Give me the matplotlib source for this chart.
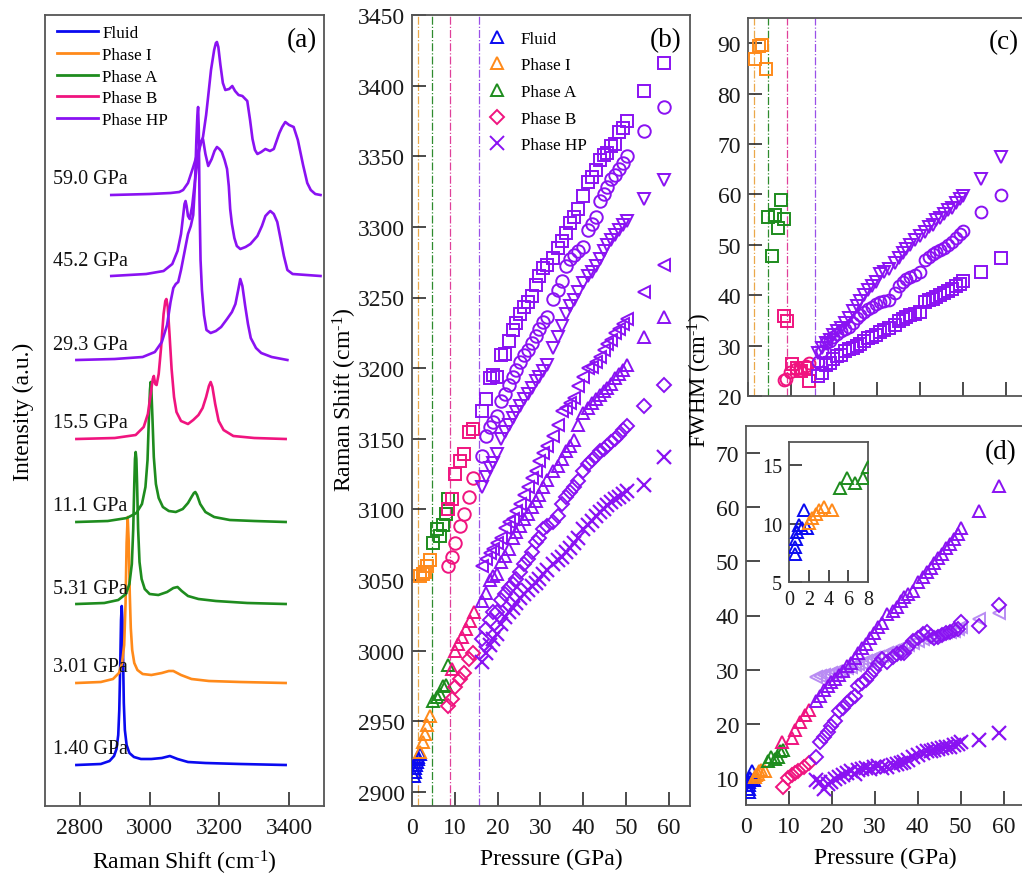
import matplotlib
matplotlib.use("Agg")
import matplotlib.pyplot as plt
from matplotlib.lines import Line2D

plt.rcParams["font.family"] = ["Liberation Serif", "DejaVu Serif"]
plt.rcParams["mathtext.fontset"] = "custom"
plt.rcParams["mathtext.rm"] = "Liberation Serif"
plt.rcParams["mathtext.it"] = "Liberation Serif:italic"
plt.rcParams["mathtext.default"] = "regular"

W, H = 1022, 879

C_FLUID = "#0A0AF0"
C_I = "#FF8A1A"
C_A = "#1E8C1E"
C_B = "#F0147F"
C_HP = "#8A12F2"
C_HP_LIGHT = "#B98CF3"

PHASES = ["Fluid", "Phase I", "Phase A", "Phase B", "Phase HP"]
CM_INV = r"(cm$^{\text{-}1}$)"

# ---------------- (a) Raman spectra (shift in cm-1, intensity above baseline, a.u.)
SPEC_LABELS = ["1.40 GPa", "3.01 GPa", "5.31 GPa", "11.1 GPa",
               "15.5 GPa", "29.3 GPa", "45.2 GPa", "59.0 GPa"]
SPEC_OFFSETS = [41, 123, 202, 284, 367, 446, 530, 611]

X_140 = [2790, 2860, 2885, 2898, 2905, 2910, 2913, 2916, 2918, 2920, 2922, 2924, 2926,
         2929, 2934, 2942, 2955, 2975, 3005, 3035, 3058, 3080, 3110, 3160, 3260, 3390]
Y_140 = [0, 1, 4, 9, 16, 30, 55, 105, 145, 159, 145, 105, 62,
         35, 20, 12, 8, 6, 6, 7, 9, 6, 3, 2, 1, 0]

X_301 = [2790, 2860, 2895, 2912, 2921, 2927, 2931, 2934, 2937, 2940, 2943, 2946, 2950,
         2956, 2965, 2980, 3005, 3035, 3055, 3068, 3090, 3120, 3170, 3260, 3390]
Y_301 = [0, 1, 4, 10, 20, 38, 80, 140, 166, 142, 90, 55, 33,
         20, 13, 9, 8, 10, 12, 12, 8, 4, 2, 1, 0]

X_531 = [2790, 2870, 2910, 2932, 2942, 2949, 2953, 2956, 2958, 2960, 2962, 2964, 2967,
         2971, 2977, 2986, 3000, 3025, 3050, 3068, 3080, 3092, 3110, 3140, 3190, 3280, 3390]
Y_531 = [0, 1, 4, 10, 20, 40, 75, 120, 145, 152, 145, 120, 75,
         42, 25, 15, 10, 9, 12, 16, 17, 13, 8, 5, 3, 1, 0]

X_111 = [2790, 2880, 2935, 2962, 2978, 2988, 2994, 2998, 3001, 3003, 3005, 3008, 3012,
         3018, 3026, 3038, 3055, 3075, 3095, 3110, 3120, 3127, 3131, 3136, 3145, 3160,
         3185, 3230, 3300, 3390]
Y_111 = [0, 1, 4, 9, 18, 35, 62, 105, 132, 140, 132, 105, 65,
         38, 24, 15, 11, 10, 13, 19, 25, 29, 30, 27, 18, 10,
         5, 2, 1, 0]

X_155 = [2790, 2900, 2960, 2983, 2995, 3003, 3009, 3012, 3016, 3020, 3026, 3033, 3040,
         3045, 3048, 3052, 3057, 3063, 3070, 3077, 3090, 3110, 3125, 3140, 3152, 3162,
         3170, 3175, 3180, 3188, 3198, 3212, 3240, 3300, 3390]
Y_155 = [0, 1, 4, 12, 25, 45, 60, 63, 55, 54, 65, 92, 125,
         138, 140, 132, 105, 70, 42, 27, 18, 15, 19, 24, 31, 42,
         53, 57, 52, 35, 18, 9, 3, 1, 0]

X_293 = [2790, 2900, 2980, 3015, 3035, 3050, 3060, 3068, 3075, 3082, 3090, 3100, 3110,
         3118, 3125, 3130, 3134, 3137, 3139, 3141, 3143, 3146, 3150, 3156, 3163, 3175,
         3190, 3205, 3222, 3236, 3246, 3254, 3260, 3266, 3274, 3282, 3290, 3305, 3320,
         3350, 3395]
Y_293 = [0, 1, 3, 8, 18, 35, 58, 72, 76, 78, 90, 108, 126,
         134, 145, 175, 220, 245, 253, 230, 160, 100, 70, 45, 30, 27,
         29, 33, 41, 48, 56, 70, 81, 74, 54, 36, 22, 12, 7,
         3, 0]

X_452 = [2890, 2990, 3040, 3065, 3080, 3090, 3096, 3100, 3103, 3106, 3110, 3115, 3122,
         3130, 3140, 3148, 3153, 3160, 3168, 3178, 3186, 3193, 3200, 3207, 3215, 3222,
         3227, 3231, 3236, 3243, 3250, 3260, 3275, 3289, 3309, 3322, 3332, 3340, 3346,
         3356, 3366, 3375, 3385, 3395, 3410, 3450, 3490]
Y_452 = [0, 2, 5, 12, 25, 42, 60, 72, 75, 70, 60, 57, 70,
         95, 122, 135, 137, 122, 110, 117, 125, 129, 127, 124, 116, 107,
         90, 67, 52, 38, 30, 27, 29, 32, 40, 50, 60, 63, 65,
         62, 54, 38, 20, 6, 2, 1, 0]

X_590 = [2890, 3000, 3060, 3085, 3096, 3110, 3125, 3140, 3153, 3162, 3168, 3176, 3185,
         3190, 3193, 3197, 3203, 3210, 3217, 3228, 3237, 3245, 3255, 3266, 3280, 3288,
         3295, 3302, 3309, 3320, 3332, 3345, 3356, 3365, 3372, 3380, 3389, 3400, 3413,
         3425, 3440, 3452, 3462, 3475, 3490]
Y_590 = [0, 1, 2, 3, 5, 12, 28, 45, 58, 80, 99, 125, 145,
         152, 153, 148, 130, 112, 105, 106, 109, 104, 100, 99, 94, 75,
         56, 45, 41, 43, 46, 44, 46, 55, 62, 68, 73, 70, 68,
         55, 30, 12, 5, 1, 0]

SPEC_X = [X_140, X_301, X_531, X_111, X_155, X_293, X_452, X_590]
SPEC_Y = [Y_140, Y_301, Y_531, Y_111, Y_155, Y_293, Y_452, Y_590]
SPEC_COLORS = [C_FLUID, C_I, C_A, C_A, C_B, C_HP, C_HP, C_HP]

# ---------------- phase boundaries (GPa)
TRANSITIONS = [1.3, 4.6, 9.0, 15.7]
TRANSITION_COLORS = ["#EBA84A", "#2E8B2E", "#E0409A", "#9A50E8"]

# ---------------- (b) Raman shift vs pressure
P_FL_B = [0.5, 0.7, 0.8, 1.0, 1.1, 1.3, 1.5, 1.8]
NU_FL_B = [2911, 2914, 2917, 2919, 2921, 2923, 2925, 2927]

P_I_B = [1.9, 2.6, 3.1, 3.4, 4.3]
NU_I_TRI = [2928, 2935, 2941, 2947, 2954]
NU_I_SQ = [3053, 3054, 3056, 3060, 3064]

P_A_B = [5.0, 5.9, 6.6, 7.3, 8.0, 8.5]
NU_A_TRI = [2964, 2967, 2969, 2975, 2976, 2990]
NU_A_SQ = [3076, 3086, 3081, 3089, 3097, 3107]

P_B_TRI = [9.4, 10.1, 10.8, 11.7, 12.6, 13.6, 14.6]
NU_B_TRI = [2987, 3000, 3005, 3010, 3015, 3021, 3027]
P_B_B = [8.5, 9.4, 10.1, 11.2, 12.2, 13.4, 14.3]
NU_B_DIA = [2961, 2966, 2974, 2980, 2984, 2994, 2998]
NU_B_CIR = [3060, 3066, 3076, 3088, 3097, 3109, 3122]
NU_B_SQ = [3100, 3107, 3125, 3134, 3139, 3155, 3157]

P_HP = [16.4, 17.3, 18.2, 19.0, 19.9, 20.8, 21.7, 22.6, 23.5, 24.4, 25.3, 26.2, 27.1,
        28.0, 28.9, 29.8, 30.7, 31.6, 32.9, 34.2, 35.1, 36.0, 36.9, 37.8, 38.9, 40.0,
        41.2, 42.1, 43.0, 43.9, 44.8, 45.7, 46.6, 47.5, 48.4, 49.3, 50.2, 54.3, 58.9]
NU_HP_SQ = [3170, 3178, 3193, 3195, 3194, 3209, 3210, 3219, 3227, 3232, 3238, 3243, 3247,
            3251, 3259, 3265, 3271, 3273, 3278, 3285, 3290, 3296, 3303, 3307, 3313, 3322,
            3332, 3335, 3340, 3347, 3351, 3352, 3357, 3359, 3367, 3370, 3375, 3396, 3416]
NU_HP_CI = [3138, 3152, 3158, 3162, 3166, 3177, 3182, 3188, 3194, 3199, 3204, 3209, 3213,
            3218, 3223, 3228, 3233, 3236, 3249, 3255, 3262, 3272, 3277, 3280, 3283, 3286,
            3298, 3302, 3307, 3318, 3323, 3328, 3334, 3337, 3341, 3345, 3350, 3368, 3385]
NU_HP_DN = [3116, 3123, 3129, 3133, 3139, 3150, 3155, 3160, 3165, 3169, 3173, 3178, 3182,
            3186, 3191, 3194, 3198, 3202, 3214, 3222, 3230, 3238, 3244, 3248, 3254, 3260,
            3265, 3268, 3272, 3277, 3283, 3287, 3291, 3294, 3298, 3301, 3304, 3320, 3333]
NU_HP_LT = [3060, 3065, 3069, 3072, 3076, 3080, 3087, 3091, 3093, 3099, 3104, 3110, 3116,
            3122, 3127, 3134, 3140, 3145, 3152, 3160, 3170, 3172, 3175, 3179, 3187, 3194,
            3200, 3201, 3204, 3208, 3213, 3217, 3220, 3225, 3228, 3231, 3235, 3254, 3273]
NU_HP_UP = [3035, 3041, 3050, 3053, 3054, 3063, 3067, 3072, 3080, 3084, 3088, 3093, 3097,
            3102, 3106, 3110, 3116, 3121, 3127, 3131, 3136, 3141, 3145, 3149, 3160, 3168,
            3172, 3175, 3178, 3181, 3184, 3186, 3189, 3193, 3196, 3199, 3202, 3222, 3236]
NU_HP_DI = [3008, 3015, 3022, 3027, 3027, 3036, 3040, 3044, 3047, 3051, 3056, 3061, 3065,
            3070, 3077, 3080, 3086, 3088, 3091, 3095, 3104, 3109, 3112, 3116, 3120, 3127,
            3132, 3135, 3138, 3141, 3143, 3145, 3148, 3150, 3153, 3156, 3159, 3173, 3188]
NU_HP_X = [2992, 2998, 3004, 3008, 3012, 3019, 3024, 3027, 3030, 3034, 3037, 3040, 3043,
           3046, 3048, 3051, 3054, 3057, 3061, 3064, 3066, 3070, 3073, 3076, 3080, 3086,
           3089, 3092, 3095, 3098, 3100, 3103, 3105, 3107, 3109, 3111, 3113, 3117, 3137]

# ---------------- (c) FWHM of the high-frequency modes
P_I_C = [1.7, 2.5, 3.3, 4.1]
FW_I_C = [86.9, 89.5, 89.6, 84.9]
P_A_C = [4.7, 5.6, 6.4, 7.0, 7.8, 8.3]
FW_A_C = [55.5, 47.8, 55.9, 53.3, 58.8, 55.1]
P_B_C_SQ = [8.4, 9.1, 10.3, 11.4, 12.4, 13.3, 14.2]
FW_B_C_SQ = [35.8, 34.9, 26.3, 25.5, 25.0, 25.6, 23.0]
P_B_C_CI = [8.4, 8.8, 9.9, 11.1, 12.2, 13.4, 14.2]
FW_B_C_CI = [23.2, 23.4, 24.7, 25.4, 25.2, 25.9, 26.5]
FW_HP_C_SQ = [24.0, 24.6, 26.2, 26.5, 27.4, 28.0, 28.2, 28.9, 29.3, 29.6, 30.0, 30.4, 31.0,
              31.5, 31.8, 32.2, 32.6, 33.0, 33.4, 34.1, 34.8, 35.2, 35.6, 36.0, 36.3, 36.6,
              38.7, 39.1, 39.2, 39.6, 40.0, 40.4, 40.8, 41.2, 41.8, 42.3, 42.9, 44.7, 47.3]
FW_HP_C_CI = [26.8, 29.0, 30.6, 31.0, 31.8, 32.3, 32.8, 33.2, 33.6, 34.5, 35.5, 36.1, 36.6,
              37.2, 37.7, 38.2, 38.6, 38.9, 39.0, 40.5, 41.9, 42.6, 43.2, 43.7, 44.0, 44.6,
              47.0, 47.6, 48.1, 48.5, 48.9, 49.3, 50.0, 50.6, 51.4, 52.1, 52.7, 56.6, 59.9]
FW_HP_C_DN = [28.6, 29.6, 30.5, 31.2, 32.2, 32.8, 33.4, 34.4, 35.4, 36.9, 37.8, 38.8, 40.0,
              41.0, 41.8, 42.6, 44.3, 44.6, 45.2, 46.4, 47.4, 48.3, 49.1, 50.0, 51.0, 51.8,
              52.6, 53.5, 54.0, 54.9, 55.3, 56.2, 57.0, 57.4, 58.3, 59.0, 59.7, 63.1, 67.4]

# ---------------- (d) FWHM of the low-frequency modes
P_FL_D = [0.6, 0.6, 0.7, 0.8, 1.0, 1.3, 1.5, 1.8]
FW_FL_D = [7.4, 8.0, 8.7, 9.3, 9.9, 9.6, 11.2, 9.6]
P_I_D = [2.0, 2.3, 2.7, 3.0, 3.5, 4.4]
FW_I_D = [10.1, 10.5, 10.8, 11.2, 11.4, 11.2]
P_A_D = [5.2, 5.9, 6.7, 7.5, 8.0, 8.7]
FW_A_D = [13.1, 13.9, 13.5, 13.9, 14.9, 15.2]
P_B_D_TRI = [8.3, 10.7, 11.4, 12.6, 13.8, 14.6]
FW_B_D_TRI = [16.7, 17.3, 18.9, 20.4, 21.7, 22.6]
P_B_D_DIA = [8.7, 9.9, 10.7, 11.5, 12.2, 13.4, 14.6]
FW_B_D_DIA = [8.4, 9.9, 10.6, 10.9, 11.2, 12.1, 12.7]
FW_HP_D_UP = [24.2, 25.2, 26.3, 27.0, 27.7, 28.3, 29.0, 29.7, 30.6, 31.3, 32.1, 33.0, 34.0,
              34.8, 35.9, 36.8, 37.8, 38.7, 40.2, 40.9, 41.6, 42.6, 43.4, 44.0, 44.6, 46.2,
              47.2, 48.0, 48.8, 49.7, 50.6, 51.4, 52.4, 53.2, 54.2, 55.1, 56.2, 59.3, 63.9]
FW_HP_D_LT = [28.6, 28.8, 29.0, 29.1, 29.3, 29.6, 29.8, 29.9, 30.3, 30.5, 30.8, 31.0, 31.3,
              31.6, 31.8, 32.1, 32.4, 32.6, 33.0, 33.4, 33.7, 34.0, 34.3, 34.6, 34.9, 35.2,
              35.6, 35.9, 36.1, 36.3, 36.5, 36.7, 36.9, 37.0, 37.2, 37.5, 37.8, 39.3, 40.5]
FW_HP_D_DI = [13.9, 16.7, 17.6, 18.5, 19.6, 20.6, 22.3, 23.0, 23.8, 24.5, 25.1, 26.9, 27.6,
              28.0, 29.1, 30.0, 31.0, 31.9, 31.5, 32.4, 32.8, 33.1, 33.0, 34.2, 35.2, 35.8,
              36.6, 36.9, 36.2, 35.8, 36.0, 36.4, 36.8, 37.0, 37.3, 37.5, 38.8, 38.0, 41.9]
FW_HP_D_X = [9.6, 9.2, 7.9, 8.8, 9.3, 9.8, 10.1, 10.5, 10.9, 11.2, 10.8, 11.4, 11.6,
             11.9, 11.7, 12.0, 12.2, 11.8, 12.1, 12.3, 12.5, 12.7, 13.0, 13.4, 13.8, 14.3,
             14.6, 14.9, 15.0, 15.2, 15.3, 15.5, 15.7, 15.8, 16.0, 16.3, 16.7, 17.0, 18.3]

TICK_SIZE = 17
LABEL_SIZE = 17


def px_axes(left, top, right, bottom):
    return [left / W, 1 - bottom / H, (right - left) / W, (bottom - top) / H]


def frame(ax, size=TICK_SIZE, length=10, xpad=8):
    ax.tick_params(direction="in", length=length, width=1.1, colors="#1a1a1a",
                   labelsize=size, top=False, right=False, pad=5)
    ax.tick_params(axis="x", pad=xpad)
    for s in ax.spines.values():
        s.set_color("#555555")
        s.set_linewidth(1.3)


def scatter(ax, x, y, marker, color, ms=9, mew=1.4, alpha=1.0, z=3):
    ax.plot(x, y, linestyle="none", marker=marker, ms=ms, mfc="none", mec=color,
            mew=mew, alpha=alpha, zorder=z)


fig = plt.figure(figsize=(W / 100, H / 100), dpi=100)

# ================= (a)
ax_a = fig.add_axes(px_axes(45, 16, 324, 807))
for xs, ys, off, col, lab in zip(SPEC_X, SPEC_Y, SPEC_OFFSETS, SPEC_COLORS, SPEC_LABELS):
    ax_a.plot(xs, [v + off for v in ys], color=col, lw=1.9, solid_joinstyle="round")
    ax_a.text(2723, off + 16, lab, fontsize=14.5, va="center", ha="left", color="#111111")
ax_a.set_xlim(2700, 3500)
ax_a.set_ylim(0, 791)
ax_a.set_xticks([2800, 3000, 3200, 3400])
ax_a.set_yticks([])
frame(ax_a)
ax_a.set_xlabel("Raman Shift " + CM_INV, fontsize=LABEL_SIZE, labelpad=7)
ax_a.set_ylabel("Intensity (a.u.)", fontsize=LABEL_SIZE, labelpad=8)
ax_a.legend([Line2D([], [], color=c, lw=2) for c in [C_FLUID, C_I, C_A, C_B, C_HP]],
            PHASES, loc="upper left", bbox_to_anchor=(0.043, 0.987), frameon=False,
            fontsize=12.3, handlelength=2.4, handletextpad=0.25,
            labelspacing=0.33, borderaxespad=0, borderpad=0)

# ================= (b)
ax_b = fig.add_axes(px_axes(412, 16, 690, 807))
for p, c in zip(TRANSITIONS, TRANSITION_COLORS):
    ax_b.axvline(p, color=c, lw=0.9, ls="-.", zorder=1)
scatter(ax_b, P_FL_B, NU_FL_B, "^", C_FLUID)
scatter(ax_b, P_I_B, NU_I_TRI, "^", C_I)
scatter(ax_b, P_I_B, NU_I_SQ, "s", C_I, ms=8)
scatter(ax_b, P_A_B, NU_A_TRI, "^", C_A)
scatter(ax_b, P_A_B, NU_A_SQ, "s", C_A, ms=8)
scatter(ax_b, P_B_TRI, NU_B_TRI, "^", C_B)
scatter(ax_b, P_B_B, NU_B_DIA, "D", C_B, ms=7.5)
scatter(ax_b, P_B_B, NU_B_CIR, "o", C_B)
scatter(ax_b, P_B_B, NU_B_SQ, "s", C_B, ms=8)
scatter(ax_b, P_HP, NU_HP_SQ, "s", C_HP, ms=8)
scatter(ax_b, P_HP, NU_HP_CI, "o", C_HP)
scatter(ax_b, P_HP, NU_HP_DN, "v", C_HP)
scatter(ax_b, P_HP, NU_HP_LT, "<", C_HP)
scatter(ax_b, P_HP, NU_HP_UP, "^", C_HP)
scatter(ax_b, P_HP, NU_HP_DI, "D", C_HP, ms=7.5)
scatter(ax_b, P_HP, NU_HP_X, "x", C_HP, ms=10, mew=1.6)
ax_b.set_xlim(0, 65)
ax_b.set_ylim(2890, 3450)
ax_b.set_xticks(range(0, 61, 10))
ax_b.set_yticks(range(2900, 3451, 50))
frame(ax_b)
ax_b.set_xlabel("Pressure (GPa)", fontsize=LABEL_SIZE, labelpad=7)
fig.text(345 / W, 1 - 400 / H, "Raman Shift " + CM_INV, rotation=90,
         fontsize=LABEL_SIZE, ha="center", va="center")
leg_b_handles = [Line2D([], [], ls="none", marker=m, ms=ms, mfc="none", mec=c, mew=1.4)
                 for m, c, ms in [("^", C_FLUID, 9), ("^", C_I, 9), ("^", C_A, 9),
                                  ("D", C_B, 7.5), ("x", C_HP, 10)]]
ax_b.legend(leg_b_handles, PHASES, loc="upper left", bbox_to_anchor=(0.275, 0.98),
            frameon=False, fontsize=12.3, handlelength=1.0, handletextpad=0.9,
            labelspacing=0.62, borderaxespad=0, borderpad=0, numpoints=1)

# ================= (c)
ax_c = fig.add_axes(px_axes(748, 19, 1027, 397))
for p, c in zip(TRANSITIONS, TRANSITION_COLORS):
    ax_c.axvline(p, color=c, lw=0.9, ls="-.", zorder=1)
scatter(ax_c, P_I_C, FW_I_C, "s", C_I, ms=8)
scatter(ax_c, P_A_C, FW_A_C, "s", C_A, ms=8)
scatter(ax_c, P_B_C_SQ, FW_B_C_SQ, "s", C_B, ms=8)
scatter(ax_c, P_B_C_CI, FW_B_C_CI, "o", C_B, ms=8.5)
scatter(ax_c, P_HP, FW_HP_C_SQ, "s", C_HP, ms=8)
scatter(ax_c, P_HP, FW_HP_C_CI, "o", C_HP, ms=8.5)
scatter(ax_c, P_HP, FW_HP_C_DN, "v", C_HP, ms=9)
ax_c.set_xlim(0, 65)
ax_c.set_ylim(20, 95)
ax_c.set_xticks(range(0, 61, 10))
ax_c.set_yticks(range(20, 91, 10))
frame(ax_c)
ax_c.tick_params(labelbottom=False)

# ================= (d)
ax_d = fig.add_axes(px_axes(746, 427, 1025, 806))
scatter(ax_d, P_FL_D, FW_FL_D, "^", C_FLUID, ms=9)
scatter(ax_d, P_I_D, FW_I_D, "^", C_I, ms=9)
scatter(ax_d, P_A_D, FW_A_D, "^", C_A, ms=9)
scatter(ax_d, P_B_D_TRI, FW_B_D_TRI, "^", C_B, ms=9)
scatter(ax_d, P_B_D_DIA, FW_B_D_DIA, "D", C_B, ms=7.5)
scatter(ax_d, P_HP, FW_HP_D_LT, "<", C_HP_LIGHT, ms=9, z=2)
scatter(ax_d, P_HP, FW_HP_D_UP, "^", C_HP, ms=9)
scatter(ax_d, P_HP, FW_HP_D_DI, "D", C_HP, ms=7.5)
scatter(ax_d, P_HP, FW_HP_D_X, "x", C_HP, ms=10, mew=1.6)
ax_d.set_xlim(0, 65)
ax_d.set_ylim(5, 75)
ax_d.set_xticks(range(0, 61, 10))
ax_d.set_yticks(range(10, 71, 10))
frame(ax_d)
ax_d.set_xlabel("Pressure (GPa)", fontsize=LABEL_SIZE, labelpad=7)

# inset: fluid, phase I and phase A widths at low pressure
ax_in = fig.add_axes(px_axes(789, 443, 868, 583))
scatter(ax_in, P_FL_D, FW_FL_D, "^", C_FLUID, ms=8.5)
scatter(ax_in, P_I_D, FW_I_D, "^", C_I, ms=8.5)
scatter(ax_in, P_A_D, FW_A_D, "^", C_A, ms=8.5)
ax_in.set_xlim(0, 8)
ax_in.set_ylim(5, 17)
ax_in.set_xticks([0, 2, 4, 6, 8])
ax_in.set_yticks([5, 10, 15])
frame(ax_in, size=14.5, length=9, xpad=6)

fig.text(700 / W, 1 - 380 / H, "FWHM " + CM_INV, rotation=90,
         fontsize=16.5, ha="center", va="center")

# panel letters
for x, y, s in [(302, 41, "(a)"), (666, 41, "(b)"), (1004, 43, "(c)"), (1001, 453, "(d)")]:
    fig.text(x / W, 1 - y / H, s, fontsize=19.5, ha="center", va="center")

fig.savefig("out.png", dpi=100)
